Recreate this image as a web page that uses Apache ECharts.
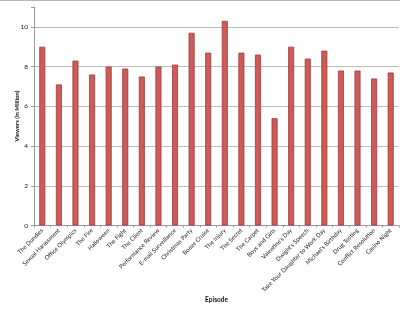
<!DOCTYPE html>
<html><head><meta charset="utf-8">
<script src="https://cdn.jsdelivr.net/npm/echarts@6/dist/echarts.min.js"></script>
<style>html,body{margin:0;padding:0;background:#fff}#c{width:400px;height:310px}</style>
</head><body><div id="c"></div>
<script>
const episodes = ["The Dundies","Sexual Harassment","Office Olympics","The Fire","Halloween","The Fight","The Client","Performance Review","E-mail Surveillance","Christmas Party","Booze Cruise","The Injury","The Secret","The Carpet","Boys and Girls","Valentine's Day","Dwight's Speech","Take Your Daughter to Work Day","Michael's Birthday","Drug Testing","Conflict Resolution","Casino Night"];
const viewers = [9.0,7.1,8.3,7.6,8.0,7.9,7.5,8.0,8.1,9.7,8.7,10.3,8.7,8.6,5.4,9.0,8.4,8.8,7.8,7.8,7.4,7.7];
const yTicks = [0,2,4,6,8,10];
const chart = echarts.init(document.getElementById('c'), null, {renderer:'canvas'});
const font = "Lato, 'Open Sans', sans-serif";
chart.setOption({
  animation:false,
  grid:{left:34,right:1,top:7,bottom:84.5,containLabel:false,outerBoundsMode:'none'},
  graphic:[{type:'line',shape:{x1:0,y1:0.5,x2:400,y2:0.5},style:{stroke:'#b8b8b8',lineWidth:1}}],
  xAxis:{
    type:'category',data:episodes,
    name:'Episode',nameLocation:'middle',nameGap:71,nameMoveOverlap:false,
    nameTextStyle:{fontSize:6.5,fontWeight:'bold',color:'#111',fontFamily:font},
    axisLine:{lineStyle:{color:'#9a9a9a',width:1}},
    axisTick:{show:true,length:2,lineStyle:{color:'#9a9a9a'}},
    axisLabel:{rotate:45,fontSize:6,color:'#222',margin:4,interval:0,fontFamily:font}
  },
  yAxis:{
    type:'value',min:0,max:11,interval:2,
    name:'Viewers (in Million)',nameLocation:'middle',nameGap:14,nameMoveOverlap:false,
    nameTextStyle:{fontSize:6,fontWeight:'bold',color:'#111',fontFamily:font},
    axisLine:{show:true,lineStyle:{color:'#9a9a9a',width:1}},
    axisTick:{show:true,length:3,lineStyle:{color:'#9a9a9a'}},
    axisLabel:{fontSize:6.5,color:'#111',margin:6,fontFamily:font,
      formatter:v=> yTicks.indexOf(v)>=0 ? String(v) : ''},
    splitLine:{show:true,showMaxLine:false,lineStyle:{color:'#bdbdbd',width:1}}
  },
  series:[{
    type:'bar',data:viewers,barWidth:6,
    itemStyle:{color:'#cd5b59',borderColor:'#9e3a38',borderWidth:0.8}
  }]
});
</script></body></html>
